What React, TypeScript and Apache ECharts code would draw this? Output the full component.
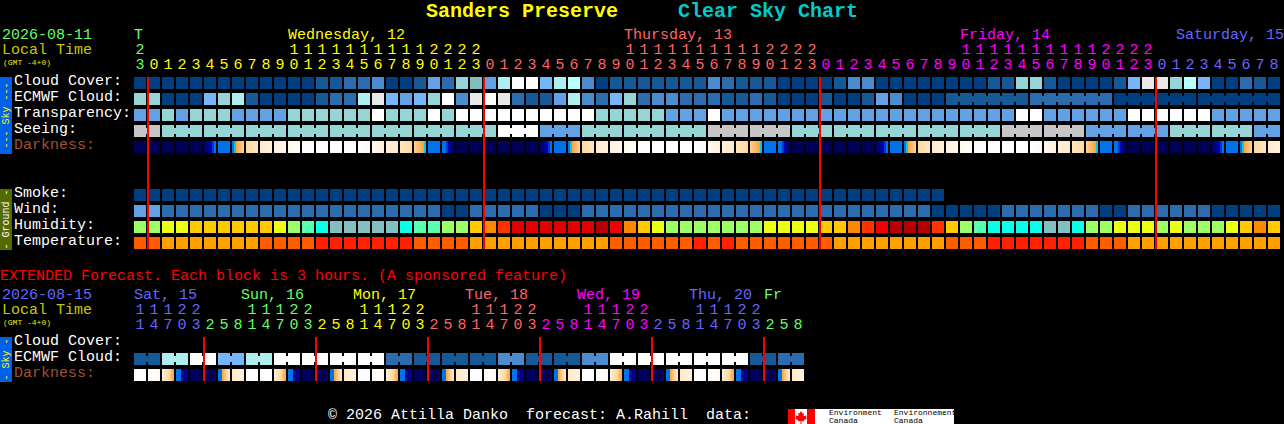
import React, { useEffect, useRef } from "react";
import * as echarts from "echarts";

// ---------- chart data (levels index the palettes further down) ----------
const hourUnits = [..."3012345678901234567890123012345678901234567890123012345678901234567890123012345678"];
const hourTens = [..."2          11111111112222          11111111112222          11111111112222         "];
const extUnits = [..."147032581470325814703258147032581470325814703258"];
const extTens = [..."11122   11122   11122   11122   11122   11122   "];

const skyRows = ["Cloud Cover:", "ECMWF Cloud:", "Transparency:", "Seeing:", "Darkness:", "", "", "Smoke:", "Wind:", "Humidity:", "Temperature:"];
const extRows = ["Cloud Cover:", "ECMWF Cloud:", "Darkness:"];

const cloudCover = [
  0,0,0,0,0,0,0,0,0,0, 0,0,0,1,1,2,2,3,0,0, 1,4,2,6,11,4,7,10,10,5, 7,8,3,0,1,1,1,1,1,1,
  1,3,2,1,1,1,0,0,0,0, 1,3,3,0,0,0,0,0,0,0, 0,1,1,6,6,1,0,0,0,0, 1,5,9,9,6,8,5,0,0,2, 1,0,
];
const ecmwfCloud = [
  6,6,0,0,0,5,6,7,1,0, 0,0,0,1,2,2,7,9,5,4, 5,6,10,3,9,10,9,2,1,1, 4,7,3,2,5,6,2,3,3,2,
  2,2,1,1,2,1,0,0,0,1, 0,0,1,4,3,0,0,0,1,1, 1,1,1,1,2,2,2,2,2,2, 0,0,0,0,0,0,0,0,0,0, 0,0,
];
const transparency = [
  4,4,6,4,6,6,6,4,4,4, 4,6,6,6,6,6,6,10,6,6, 6,10,6,10,10,10,10,10,10,10, 10,10,10,6,6,6,6,6,4,4,
  4,10,4,4,4,4,4,4,4,4, 4,4,4,4,4,4,4,4,4,4, 4,4,4,10,10,4,4,4,4,4, 4,10,10,10,10,10,10,4,4,4, 4,4,
];
const seeing = [
  12,12,6,6,6,6,6,6,6,6, 6,6,6,6,6,6,6,6,6,6, 6,6,6,6,6,6,10,10,10,4, 4,4,6,6,6,6,6,6,6,6,
  6,12,12,12,12,12,12,6,6,6, 6,6,6,6,6,6,6,6,6,6, 6,6,12,12,12,12,12,12,4,4, 4,4,4,4,6,6,6,6,6,6, 4,4,
];
const darkness = [
  0,0,0,0,0,1,2,3,4,5, 6,7,8,8,8,8,14,13,12,11, 9,2,10,0,0,0,0,0,0,1, 2,3,4,5,6,7,8,8,8,8,
  14,13,12,11,9,2,10,0,0,0, 0,0,0,1,2,3,4,5,6,7, 8,8,8,8,14,13,12,11,9,2, 10,0,0,0,0,0,0,1,2,3, 4,5,
];
const smoke = [
  0,0,0,0,0,0,0,0,0,0, 0,0,0,0,0,0,0,0,0,0, 0,0,0,0,0,0,0,0,0,0, 0,0,0,0,0,0,0,0,0,0,
  0,0,0,0,0,0,0,0,0,0, 0,0,0,0,0,0,0,0,
];
const wind = [
  4,4,2,2,2,2,2,2,2,2, 2,2,2,2,2,2,2,2,2,2, 2,2,0,0,2,2,2,2,2,0, 0,0,2,2,2,2,2,2,2,2,
  2,2,2,2,2,2,2,2,2,2, 2,2,2,2,2,2,2,0,0,0, 0,0,2,2,2,2,2,2,2,0, 0,2,2,2,2,2,2,0,0,0, 0,0,
];
const humidity = [
  3,3,4,4,5,5,5,5,5,5, 4,3,1,0,2,2,2,2,2,0, 1,1,3,3,5,6,7,8,8,8, 8,8,8,9,10,6,5,4,3,3,
  3,3,3,3,3,4,4,4,4,5, 5,6,7,10,9,9,9,7,5,3, 1,0,0,0,0,2,2,0,3,3, 4,4,4,3,4,3,3,3,4,5, 6,5,
];
const temperature = [
  1,1,0,0,0,0,0,0,0,1, 1,1,1,2,2,2,2,2,2,2, 1,1,1,1,0,0,0,0,0,0, 0,0,0,0,1,1,1,1,1,1,
  2,1,2,1,1,1,1,1,1,1, 0,0,0,0,0,0,0,0,1,1, 1,2,2,2,2,2,2,2,1,1, 1,0,0,0,0,0,0,0,0,0, 0,0,
];
const extEcmwf = [
  1,1,7,7,10,10,5,5,7,7, 10,10,10,10,10,10,10,10,2,2, 1,1,1,1,1,1,3,3,1,1, 1,1,3,3,10,10,10,10,10,10,
  10,10,10,10,1,1,2,2,
];
const extDarkness = [
  8,14,15,16,0,0,17,5,8,8, 15,16,0,0,17,5,8,14,15,16, 0,0,17,5,8,14,15,16,0,0, 17,5,8,14,15,16,0,0,17,5,
  8,14,15,16,0,0,17,5,
];

const midnights = [1, 25, 49, 73];
const extMidnights = [5, 13, 21, 29, 37, 45];
const dayLabels = ["T", "Wednesday, 12", "Thursday, 13", "Friday, 14", "Saturday, 15"];
const extDayLabels = ["Sat, 15", "Sun, 16", "Mon, 17", "Tue, 18", "Wed, 19", "Thu, 20", "Fr"];

// ---------- styles ----------
const GREEN = "#66ff66", YELLOW = "#ffff00", PINK = "#ff6666", MAGENTA = "#ff00ff", BLUE = "#6666ff";
const dayColors = [GREEN, YELLOW, PINK, MAGENTA, BLUE];
const extDayColors = [BLUE, GREEN, YELLOW, PINK, MAGENTA, BLUE, GREEN];
const dayX = [134, 288, 624, 960, 1176];
const extDayX = [134, 241, 353, 465, 577, 689, 764];
const FONT = '"Liberation Mono", monospace';

const colorAt = (i: number) => (i < 1 ? GREEN : i < 25 ? YELLOW : i < 49 ? PINK : i < 73 ? MAGENTA : BLUE);
const extColorAt = (j: number) =>
  j < 5 ? BLUE : j < 13 ? GREEN : j < 21 ? YELLOW : j < 29 ? PINK : j < 37 ? MAGENTA : j < 45 ? BLUE : GREEN;

const cloudPalette = ["#003f7f", "#155a96", "#2a6cae", "#4b8cce", "#62a1e4", "#75b5fa", "#96d5d5", "#aeeeee", "#b8ffff", "#e8e8e8", "#ffffff", "#80bebe", "#c6c6c6"];
const humidityPalette = ["#08ffe8", "#58ffb0", "#84bfbf", "#9cff66", "#ebff14", "#ffc800", "#ff8800", "#ff3300", "#e00000", "#b40000", "#f00000"];
const temperaturePalette = ["#ffa000", "#ff5c00", "#ff2000"];

type Stop = [number, string];
const darkStops: Stop[][] = [
  [[0, "#000058"], [1, "#000058"]],
  [[0, "#00006c"], [0.33, "#00006c"], [0.33, "#00008c"], [0.5, "#00008c"], [0.5, "#0000b4"], [0.67, "#0000b4"], [0.67, "#0038d0"], [0.83, "#0038d0"], [0.83, "#0073ea"], [1, "#0073ea"]],
  [[0, "#0073ea"], [1, "#0073ea"]],
  [[0, "#0073ea"], [0.17, "#0073ea"], [0.17, "#00c8ff"], [0.33, "#00c8ff"], [0.33, "#ff9f30"], [0.5, "#ffb050"], [1, "#ffd28f"]],
  [[0, "#ffd7a0"], [1, "#ffe6c0"]],
  [[0, "#ffe9c8"], [1, "#fff2dd"]],
  [[0, "#fff0dc"], [1, "#fff9ef"]],
  [[0, "#fff9ef"], [1, "#ffffff"]],
  [[0, "#ffffff"], [1, "#ffffff"]],
  [[0, "#ffd28f"], [0.6, "#ffb050"], [0.83, "#ff9f30"], [0.83, "#00c8ff"], [1, "#00c8ff"]],
  [[0, "#0073ea"], [0.33, "#0073ea"], [0.33, "#0038d0"], [0.5, "#0038d0"], [0.5, "#0000b4"], [0.67, "#0000b4"], [0.67, "#00008c"], [0.83, "#00008c"], [0.83, "#00006c"], [1, "#00006c"]],
  [[0, "#ffe6c0"], [1, "#ffd7a0"]],
  [[0, "#fff2dd"], [1, "#ffe9c8"]],
  [[0, "#fff9ef"], [1, "#fff0dc"]],
  [[0, "#ffffff"], [1, "#fff9ef"]],
  [[0, "#fff0dc"], [0.6, "#ffd79a"], [1, "#ffa030"]],
  [[0, "#0073ea"], [0.45, "#0073ea"], [0.45, "#0000b0"], [0.7, "#00008c"], [1, "#000070"]],
  [[0, "#0073ea"], [0.33, "#0073ea"], [0.33, "#ffa030"], [0.7, "#ffd79a"], [1, "#ffe9c8"]],
];
const darkFill = (level: number) =>
  new echarts.graphic.LinearGradient(0, 0, 1, 0, darkStops[level].map(([offset, color]) => ({ offset, color })));

// ---------- series helpers ----------
const cellSeries = (
  row: number,
  values: number[],
  fill: (level: number) => any,
  axis: number,
  joined: (i: number) => boolean = () => false,
) => ({
  type: "custom",
  xAxisIndex: axis,
  yAxisIndex: axis === 0 ? 0 : 1,
  silent: true,
  clip: false,
  data: values.map((v, i) => [i, row, v, joined(i) ? 1 : 0]),
  renderItem: (_: any, api: any) => {
    const [cx, cy] = api.coord([api.value(0), api.value(1)]);
    const color = fill(api.value(2));
    const children: any[] = [
      { type: "rect", shape: { x: cx - 6, y: cy - 6, width: 12, height: 12 }, style: { fill: color } },
    ];
    if (api.value(3)) {
      children.push({ type: "rect", shape: { x: cx + 6, y: cy - 3, width: 2, height: 6 }, style: { fill: color } });
    }
    return { type: "group", children };
  },
});

const lineSeries = (marks: number[], lastRow: number, axis: number) => ({
  type: "custom",
  xAxisIndex: axis,
  yAxisIndex: axis === 0 ? 0 : 1,
  silent: true,
  clip: false,
  z: 5,
  data: marks.map((m) => [m, 0]),
  renderItem: (_: any, api: any) => {
    const [x, top] = api.coord([api.value(0), 0]);
    const bottom = api.coord([api.value(0), lastRow])[1];
    return {
      type: "rect",
      shape: { x: x - 7, y: top - 6, width: 2, height: bottom - top + 12 },
      style: { fill: "#ff0000" },
    };
  },
});

const hourAxis = (gridIndex: number, labels: string[], colorOf: (i: number) => string, offset: number) => ({
  type: "category",
  gridIndex,
  position: "top",
  offset,
  data: labels.map((value, i) => ({ value: value.trim(), textStyle: { color: colorOf(i) } })),
  axisLine: { show: false },
  axisTick: { show: false },
  axisLabel: { interval: 0, margin: 2, fontFamily: FONT, fontSize: 15, hideOverlap: false },
  splitLine: { show: false },
});

const rowAxis = (gridIndex: number, rows: string[]) => ({
  type: "category",
  gridIndex,
  inverse: true,
  data: rows.map((value) => ({
    value,
    textStyle: {
      color: value === "Darkness:" ? "#a0522d" : "#ffffff",
      align: "left",
      verticalAlign: "bottom",
      lineHeight: 3,
    },
  })),
  axisLine: { show: false },
  axisTick: { show: false },
  axisLabel: { interval: 0, margin: 119, fontFamily: FONT, fontSize: 15, hideOverlap: false },
  splitLine: { show: false },
});

const label = (text: string, x: number, y: number, fill: string, size = 15, extra: any = {}) => ({
  type: "text",
  x,
  y,
  silent: true,
  style: {
    text,
    fill,
    font: `${extra.bold ? "bold " : ""}${size}px ${FONT}`,
    textAlign: "left",
    textVerticalAlign: "middle",
  },
});

const sideBar = (y: number, height: number, fill: string, text: string, color: string) => [
  { type: "rect", silent: true, shape: { x: 0, y, width: 12, height }, style: { fill } },
  {
    type: "text",
    silent: true,
    x: 6,
    y: y + height / 2,
    rotation: Math.PI / 2,
    style: { text, fill: color, font: `10px ${FONT}`, textAlign: "center", textVerticalAlign: "middle" },
  },
];

const logo = [
  { type: "rect", silent: true, shape: { x: 788, y: 409, width: 166, height: 15 }, style: { fill: "#ffffff" } },
  { type: "rect", silent: true, shape: { x: 788, y: 409, width: 7, height: 15 }, style: { fill: "#ff0000" } },
  { type: "rect", silent: true, shape: { x: 807, y: 409, width: 8, height: 15 }, style: { fill: "#ff0000" } },
  {
    type: "polygon",
    silent: true,
    shape: {
      points: [[801, 411], [802.5, 413.5], [804, 413], [803.5, 416], [806.5, 415.5], [806, 417.5], [807, 418.5], [803.5, 420.5], [804, 421.5], [801.5, 421], [801.5, 424], [800.5, 424], [800.5, 421], [798, 421.5], [798.5, 420.5], [795, 418.5], [796, 417.5], [795.5, 415.5], [798.5, 416], [798, 413], [799.5, 413.5]],
    },
    style: { fill: "#ff0000" },
  },
  label("Environment", 829, 412.5, "#000000", 8),
  label("Canada", 829, 420, "#000000", 8),
  label("Environnement", 894, 412.5, "#000000", 8),
  label("Canada", 894, 420, "#000000", 8),
];

const cloudFill = (l: number) => cloudPalette[l];
const inSeeingGroup = (i: number) => i === 0 || (i >= 2 && i < 81 && (i - 2) % 3 !== 2);
const inEcmwfGroup = (i: number) => i >= 58 && i < 81 && (i - 58) % 6 !== 5;
const inExtGroup = (j: number) => j % 2 === 0;

export default function App() {
  const ref = useRef<HTMLDivElement>(null);
  useEffect(() => {
    document.body.style.margin = "0";
    document.body.style.background = "#000";
    const chart = echarts.init(ref.current!, null, { renderer: "svg" });
    chart.setOption({
      animation: false,
      backgroundColor: "#000000",
      grid: [
        { left: 133, top: 75, width: 1148, height: 176, outerBoundsMode: "none" },
        { left: 133, top: 335, width: 672, height: 48, outerBoundsMode: "none" },
      ],
      xAxis: [
        hourAxis(0, hourUnits, colorAt, 0),
        hourAxis(0, hourTens, colorAt, 15),
        hourAxis(1, extUnits, extColorAt, 0),
        hourAxis(1, extTens, extColorAt, 15),
      ],
      yAxis: [rowAxis(0, skyRows), rowAxis(1, extRows)],
      series: [
        cellSeries(0, cloudCover, cloudFill, 0),
        cellSeries(1, ecmwfCloud, cloudFill, 0, inEcmwfGroup),
        cellSeries(2, transparency, cloudFill, 0),
        cellSeries(3, seeing, cloudFill, 0, inSeeingGroup),
        cellSeries(4, darkness, darkFill, 0),
        cellSeries(7, smoke, cloudFill, 0),
        cellSeries(8, wind, cloudFill, 0),
        cellSeries(9, humidity, (l) => humidityPalette[l], 0),
        cellSeries(10, temperature, (l) => temperaturePalette[l], 0),
        lineSeries(midnights, 10, 0),
        cellSeries(1, extEcmwf, cloudFill, 2, inExtGroup),
        cellSeries(2, extDarkness, darkFill, 2),
        lineSeries(extMidnights, 2, 2),
      ],
      graphic: [
        label("Sanders Preserve", 426, 11, "#ffff00", 20, { bold: true }),
        label("Clear Sky Chart", 678, 11, "#00cccc", 20, { bold: true }),
        label("2026-08-11", 2, 35, GREEN),
        label("Local Time", 2, 50, "#c8c800"),
        label("(GMT -4+0)", 3, 62, "#e8e800", 8),
        ...dayLabels.map((t, i) => label(t, dayX[i], 35, dayColors[i])),
        ...sideBar(77, 77, "#0060e8", "--- Sky ---", "#ffff00"),
        ...sideBar(189, 61, "#556b00", "- Ground -", "#ffffff"),
        label("EXTENDED Forecast. Each block is 3 hours. (A sponsored feature)", 0, 276, "#ff0000"),
        label("2026-08-15", 2, 295, BLUE),
        label("Local Time", 2, 310, "#c8c800"),
        label("(GMT -4+0)", 3, 322, "#e8e800", 8),
        ...extDayLabels.map((t, i) => label(t, extDayX[i], 295, extDayColors[i])),
        ...sideBar(337, 45, "#0060e8", "- Sky -", "#ffff00"),
        label("\u00a9 2026 Attilla Danko  forecast: A.Rahill  data:", 328, 415, "#ffffff"),
        ...logo,
      ],
    });
    return () => chart.dispose();
  }, []);
  return <div ref={ref} style={{ width: 1284, height: 424 }} />;
}
